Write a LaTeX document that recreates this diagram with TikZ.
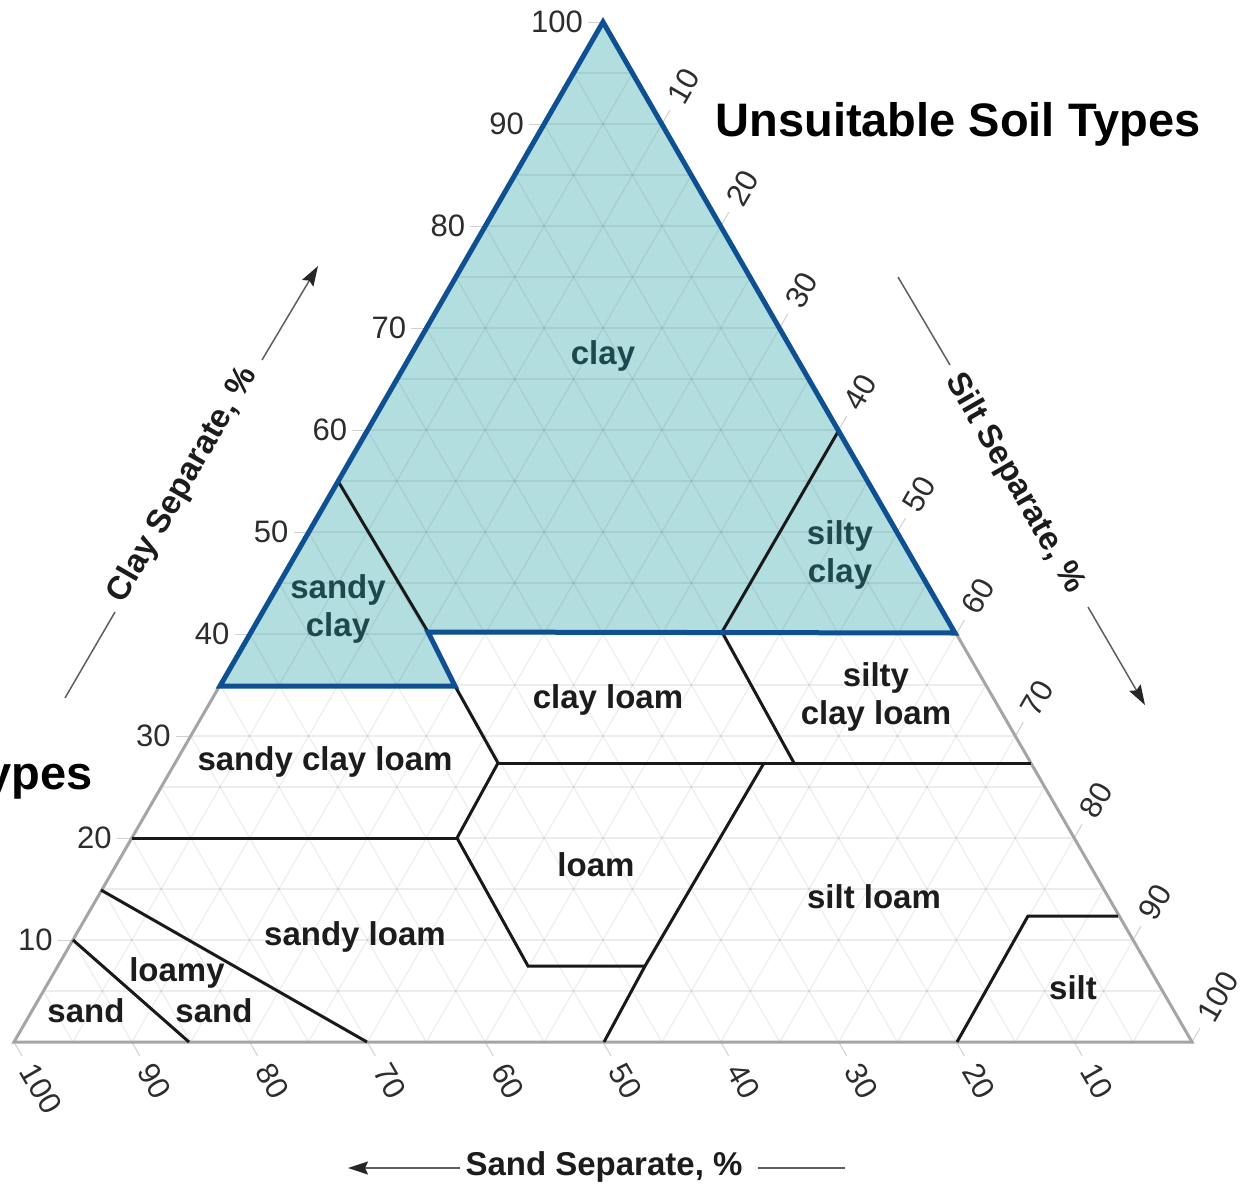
\documentclass[tikz,border=0pt]{standalone}
\usepackage{fontspec}
\setmainfont{Liberation Sans}
\usetikzlibrary{arrows.meta}
\definecolor{tealfill}{RGB}{178,222,224}
\definecolor{tealline}{RGB}{14,80,145}
\definecolor{tealtext}{RGB}{28,72,78}
\definecolor{edgegray}{RGB}{165,165,165}
\definecolor{regtext}{RGB}{28,28,28}
\definecolor{numtext}{RGB}{45,45,45}
\definecolor{axisgray}{RGB}{95,95,95}
\begin{document}
\begin{tikzpicture}[x=1pt,y=-1pt,
  gridline/.style={draw=black,opacity=0.07,line width=1.2pt},
  tickline/.style={draw=black!18,line width=1pt},
  boundary/.style={draw=black!90,line width=3pt,line join=miter},
  tealborder/.style={draw=tealline,line width=5pt,line join=miter},
  outline/.style={draw=edgegray,line width=3pt,line join=miter},
  numlabel/.style={font=\fontsize{31}{36}\selectfont,text=numtext,inner sep=0pt},
  reglabel/.style={font=\fontsize{33}{38}\selectfont\bfseries,text=regtext,inner sep=0pt,align=center},
  teallabel/.style={reglabel,text=tealtext},
  axistitle/.style={font=\fontsize{33}{38}\selectfont\bfseries,text=regtext,inner sep=0pt},
  headline/.style={font=\fontsize{47}{52}\selectfont\bfseries,text=black,inner sep=0pt},
  axisline/.style={draw=axisgray,line width=1.5pt},
  axisarrow/.style={axisline,-{Stealth[length=20pt,width=13pt,inset=3pt,color=black!85]}}]
\useasboundingbox (0,0) rectangle (1243,1189);
\clip (0,0) rectangle (1243,1189);
\fill[white] (0,0) rectangle (1243,1189);

% corner points of the triangle
\coordinate (BL) at (14,1042);
\coordinate (BR) at (1192,1042);
\coordinate (TOP) at (603,22);

% boundary points
\coordinate (A) at (338,481);
\coordinate (B) at (428,632);
\coordinate (C) at (455,686);
\coordinate (D) at (498,763);
\coordinate (E) at (1031,763);
\coordinate (F) at (794,763);
\coordinate (G) at (722,632);
\coordinate (H) at (955,633);
\coordinate (I) at (839,430);
\coordinate (O) at (764,763);
\coordinate (M) at (645,966);
\coordinate (N) at (604,1042);
\coordinate (J) at (457,838);
\coordinate (K) at (132,838);
\coordinate (L) at (528,966);
\coordinate (LS1a) at (101,890);
\coordinate (LS1b) at (367,1042);
\coordinate (LS2a) at (73,940);
\coordinate (LS2b) at (189,1042);
\coordinate (P) at (957,1042);
\coordinate (Q) at (1028,916);
\coordinate (R) at (1118,916);
\coordinate (TL) at (220,686);

% teal region
\fill[tealfill] (TL) -- (C) -- (B) -- (H) -- (TOP) -- cycle;

% grid at 5 percent
\foreach \i in {5,10,...,95}{
  \pgfmathsetmacro\ya{1042-\i*10.2}
  \pgfmathsetmacro\xa{14+\i*5.89}
  \pgfmathsetmacro\xb{1192-\i*5.89}
  \pgfmathsetmacro\xc{14+\i*11.78}
  \pgfmathsetmacro\xd{603+\i*5.89}
  \pgfmathsetmacro\yd{22+\i*10.2}
  \pgfmathsetmacro\xe{1192-\i*11.78}
  \pgfmathsetmacro\xf{603-\i*5.89}
  \draw[gridline] (\xa,\ya) -- (\xb,\ya);
  \draw[gridline] (\xc,1042) -- (\xd,\yd);
  \draw[gridline] (\xe,1042) -- (\xf,\yd);
}

% ticks and scale labels
\foreach \c in {10,20,...,100}{
  \pgfmathsetmacro\lx{14+\c*5.89}
  \pgfmathsetmacro\ly{1042-\c*10.2}
  \draw[tickline] (\lx,\ly) -- ++(-15,0);
  \path (\lx,\ly) ++(-20,0) node[numlabel,anchor=east] (clay\c) {\c};
}
\foreach \t in {10,20,...,100}{
  \pgfmathsetmacro\rx{603+\t*5.89}
  \pgfmathsetmacro\ry{22+\t*10.2}
  \draw[tickline] (\rx,\ry) -- ++(8,-13.9);
  \path (\rx,\ry) ++(13,-22.5) node[numlabel,anchor=west,rotate=60] (silt\t) {\t};
}
\foreach \s in {10,20,...,100}{
  \pgfmathsetmacro\bx{1192-\s*11.78}
  \draw[tickline] (\bx,1042) -- ++(8,13.9);
  \path (\bx,1042) ++(14,24.2) node[numlabel,anchor=west,rotate=-60] (sand\s) {\s};
}

% triangle outline
\draw[outline] (BL) -- (BR) -- (TOP) -- cycle;

% texture class boundaries
\draw[boundary] (A) -- (B);
\draw[boundary] (G) -- (I);
\draw[boundary] (C) -- (D) -- (J) -- (L) -- (M);
\draw[boundary] (D) -- (E);
\draw[boundary] (G) -- (F);
\draw[boundary] (N) -- (M) -- (O);
\draw[boundary] (K) -- (J);
\draw[boundary] (LS1a) -- (LS1b);
\draw[boundary] (LS2a) -- (LS2b);
\draw[boundary] (P) -- (Q) -- (R);

% border of the unsuitable area
\draw[tealborder] (TL) -- (C) -- (B) -- (H) -- (TOP) -- cycle;

% class labels
\node[teallabel] (lclay) at (603,356) {clay};
\node[teallabel] (lsandyclay) at (338,609) {sandy\\clay};
\node[teallabel] (lsiltyclay) at (840,555) {silty\\clay};
\node[reglabel] (lclayloam) at (608,700) {clay loam};
\node[reglabel] (lsiltyclayloam) at (876,697) {silty\\clay loam};
\node[reglabel] (lsandyclayloam) at (325,762) {sandy clay loam};
\node[reglabel] (lloam) at (596,865) {loam};
\node[reglabel] (lsiltloam) at (874,897) {silt loam};
\node[reglabel] (lsandyloam) at (355,937) {sandy loam};
\node[reglabel] (lloamy) at (177,973) {loamy};
\node[reglabel] (lloamysand) at (214,1011) {sand};
\node[reglabel] (lsand) at (86,1011) {sand};
\node[reglabel] (lsilt) at (1073,988) {silt};

% axis titles
\node[axistitle,rotate=60] (claytitle) at (183,485) {Clay Separate, \%};
\coordinate (ca1) at (65,698);
\coordinate (ca2) at (115,612);
\coordinate (ca3) at (262,360);
\coordinate (ca4) at (318,266);
\draw[axisline] (ca1) -- (ca2);
\draw[axisarrow] (ca3) -- (ca4);

\node[axistitle,rotate=-60] (silttitle) at (1015,483) {Silt Separate, \%};
\coordinate (sa1) at (898,277);
\coordinate (sa2) at (950,365);
\coordinate (sa3) at (1088,607);
\coordinate (sa4) at (1145,705);
\draw[axisline] (sa1) -- (sa2);
\draw[axisarrow] (sa3) -- (sa4);

\node[axistitle] (sandtitle) at (604,1167) {Sand Separate, \%};
\coordinate (da1) at (460,1168);
\coordinate (da2) at (348,1168);
\coordinate (da3) at (758,1168);
\coordinate (da4) at (845,1168);
\draw[axisarrow] (da1) -- (da2);
\draw[axisline] (da3) -- (da4);

% headings
\node[headline,anchor=base] (unsuit) at (958,136) {Unsuitable Soil Types};
\node[headline,anchor=base east] (suit) at (93,789) {ypes};
\end{tikzpicture}
\end{document}
